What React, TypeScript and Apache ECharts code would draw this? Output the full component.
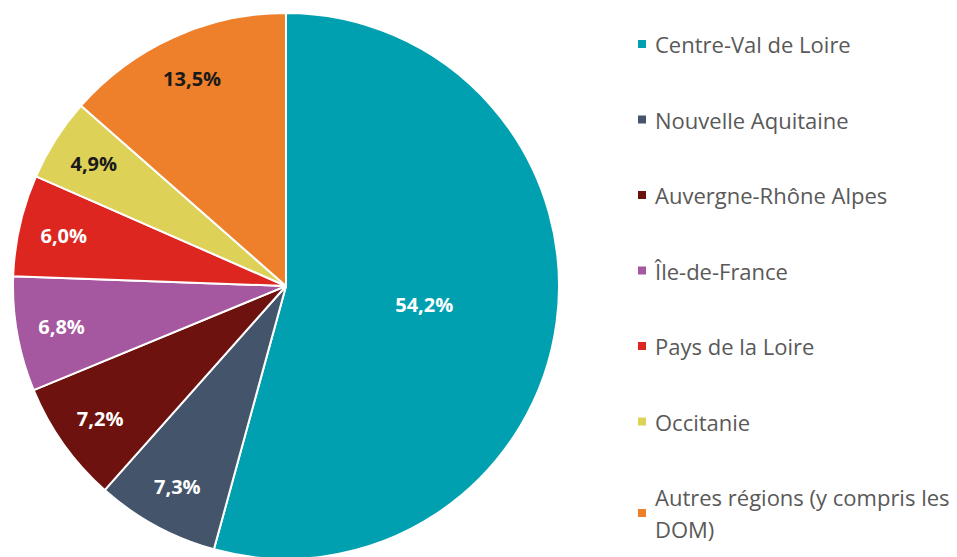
import React, { useEffect, useRef } from "react";
import * as echarts from "echarts";

const categories = [
  "Centre-Val de Loire",
  "Nouvelle Aquitaine",
  "Auvergne-Rhône Alpes",
  "Île-de-France",
  "Pays de la Loire",
  "Occitanie",
  "Autres régions (y compris les DOM)",
];
const values = [54.2, 7.3, 7.2, 6.8, 6.0, 4.9, 13.5];
const colors = ["#00A0B1", "#44546A", "#6E1210", "#A5579F", "#DD2620", "#DDD257", "#EE7F2B"];
const labelColors = ["#ffffff", "#ffffff", "#ffffff", "#ffffff", "#ffffff", "#1a1a1a", "#1a1a1a"];

const fmt = (v: number) => v.toFixed(1).replace(".", ",") + "%";

export default function App() {
  const ref = useRef<HTMLDivElement>(null);
  useEffect(() => {
    document.body.style.margin = "0";
    const chart = echarts.init(ref.current!, undefined, { renderer: "svg" });
    const font = "'Open Sans', sans-serif";
    const labelBase = { fontFamily: font, fontWeight: "bold" as const, fontSize: 20 };
    chart.setOption({
      animation: false,
      backgroundColor: "#ffffff",
      legend: {
        orient: "vertical",
        left: 636,
        top: 33,
        height: 540,
        padding: 0,
        itemWidth: 10,
        itemHeight: 10,
        itemGap: 53.5,
        icon: "rect",
        data: categories,
        formatter: (n: string) =>
          n.startsWith("Autres") ? "{a|Autres régions (y compris les}\n{a|DOM)}" : n,
        textStyle: {
          fontFamily: font,
          fontSize: 22,
          color: "#595959",
          padding: [0, 0, 0, 3],
          rich: { a: { fontFamily: font, fontSize: 22, color: "#595959", lineHeight: 32 } },
        },
      },
      series: [
        {
          type: "pie",
          center: [286, 286],
          radius: [0, 273],
          startAngle: 90,
          clockwise: true,
          itemStyle: { borderColor: "#ffffff", borderWidth: 2 },
          label: { show: false },
          labelLine: { show: false },
          data: categories.map((name, i) => ({
            name,
            value: values[i],
            itemStyle: { color: colors[i] },
            label:
              i === 0
                ? { show: true, position: "inside", formatter: fmt(values[i]), color: labelColors[i], ...labelBase }
                : { show: false },
          })),
        },
        {
          type: "pie",
          silent: true,
          center: [286, 286],
          radius: [177, 273],
          startAngle: 90,
          clockwise: true,
          itemStyle: { color: "rgba(0,0,0,0)", borderWidth: 0 },
          labelLine: { show: false },
          data: categories.map((name, i) => ({
            name,
            value: values[i],
            label:
              i === 0
                ? { show: false }
                : { show: true, position: "inside", formatter: fmt(values[i]), color: labelColors[i], ...labelBase },
          })),
        },
      ],
    });
    return () => chart.dispose();
  }, []);
  return <div ref={ref} style={{ width: 957, height: 557 }} />;
}
